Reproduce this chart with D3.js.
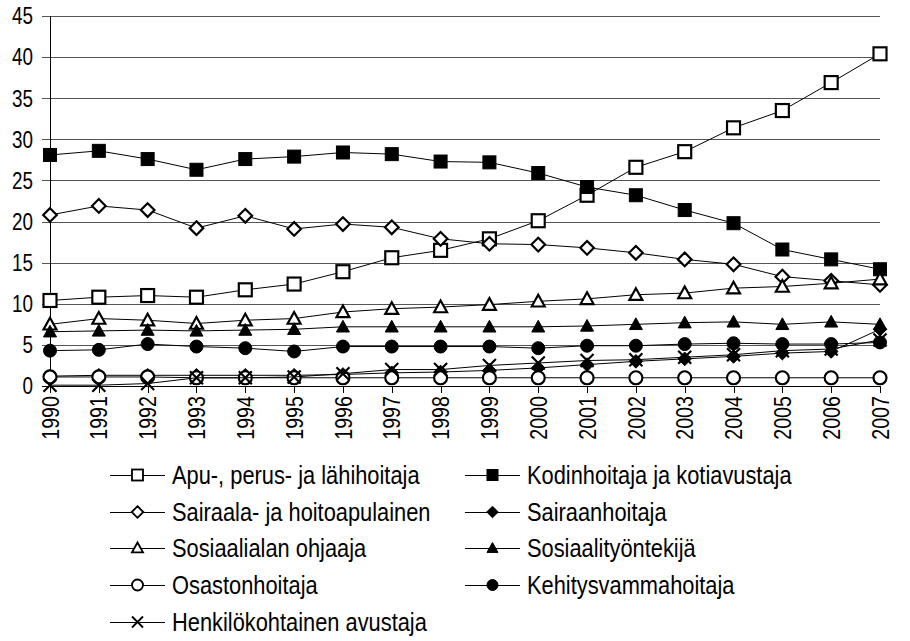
<!DOCTYPE html>
<html>
<head>
<meta charset="utf-8">
<script src="https://cdn.jsdelivr.net/npm/d3@7"></script>
<style>
  body { margin: 0; background: #fff; }
  text { font-family: "Liberation Sans Narrow", "Arial Narrow", "Liberation Sans", Arial, sans-serif; fill: #000; }
</style>
</head>
<body>
<div id="chart"></div>
<script>
// years on the x axis
var years = [1990, 1991, 1992, 1993, 1994, 1995, 1996, 1997, 1998, 1999,
             2000, 2001, 2002, 2003, 2004, 2005, 2006, 2007];

var yTicks = [0, 5, 10, 15, 20, 25, 30, 35, 40, 45];

// series values
var apuPerus = [10.4, 10.8, 11.0, 10.8, 11.7, 12.4, 13.9, 15.6, 16.5, 17.9, 20.1, 23.2, 26.6, 28.5, 31.4, 33.5, 36.9, 40.4];
var kodinhoitaja = [28.1, 28.6, 27.6, 26.3, 27.6, 27.9, 28.4, 28.2, 27.3, 27.2, 25.9, 24.2, 23.2, 21.4, 19.8, 16.6, 15.4, 14.2];
var sairaala = [20.8, 21.9, 21.4, 19.2, 20.7, 19.1, 19.7, 19.3, 17.9, 17.3, 17.2, 16.8, 16.2, 15.4, 14.8, 13.3, 12.8, 12.3];
var sairaanhoitaja = [1.2, 1.3, 1.3, 1.3, 1.3, 1.3, 1.4, 1.6, 1.7, 1.9, 2.2, 2.6, 3.0, 3.3, 3.6, 4.0, 4.2, 6.9];
var sosOhjaaja = [7.5, 8.2, 8.0, 7.6, 8.0, 8.2, 9.0, 9.4, 9.6, 9.9, 10.3, 10.6, 11.1, 11.3, 11.9, 12.1, 12.5, 13.0];
var sosTyontekija = [6.6, 6.7, 6.8, 6.7, 6.8, 6.9, 7.2, 7.2, 7.2, 7.2, 7.2, 7.3, 7.5, 7.7, 7.8, 7.5, 7.8, 7.5];
var osastonhoitaja = [1.1, 1.1, 1.1, 1.0, 1.0, 1.0, 1.0, 1.0, 1.0, 1.0, 1.0, 1.0, 1.0, 1.0, 1.0, 1.0, 1.0, 1.0];
var kehitysvamma = [4.3, 4.4, 5.1, 4.8, 4.6, 4.2, 4.8, 4.8, 4.8, 4.8, 4.6, 4.9, 4.9, 5.1, 5.2, 5.1, 5.1, 5.3];
var henkilokoht = [0.1, 0.1, 0.3, 1.0, 1.0, 1.1, 1.5, 2.0, 2.0, 2.5, 2.8, 3.1, 3.2, 3.5, 3.8, 4.3, 4.5, 5.6];

var seriesNames = ["Apu-, perus- ja lähihoitaja", "Kodinhoitaja ja kotiavustaja",
  "Sairaala- ja hoitoapulainen", "Sairaanhoitaja", "Sosiaalialan ohjaaja",
  "Sosiaalityöntekijä", "Osastonhoitaja", "Kehitysvammahoitaja",
  "Henkilökohtainen avustaja"];
var seriesValues = [apuPerus, kodinhoitaja, sairaala, sairaanhoitaja, sosOhjaaja,
  sosTyontekija, osastonhoitaja, kehitysvamma, henkilokoht];
var seriesMarkers = ["square-open", "square", "diamond-open", "diamond", "triangle-open",
  "triangle", "circle-open", "circle", "cross"];

var width = 910, height = 641;
// no narrow font installed, so squeeze regular text sideways
var squeeze = 0.82;

var svg = d3.select("#chart").append("svg")
    .attr("width", width)
    .attr("height", height);

var x = d3.scalePoint().domain(years).range([50, 880]);
var y = d3.scaleLinear().domain([0, 45]).range([386, 16]);

// gridlines + y labels
svg.append("g").selectAll("line")
    .data(yTicks)
    .enter().append("line")
    .attr("x1", 42).attr("x2", 880)
    .attr("y1", d => Math.round(y(d)) + 0.5)
    .attr("y2", d => Math.round(y(d)) + 0.5)
    .attr("stroke", d => d === 0 ? "#000" : "#555")
    .attr("stroke-width", 1);

svg.append("g").selectAll("text")
    .data(yTicks)
    .enter().append("text")
    .attr("transform", d => `translate(33, ${y(d)}) scale(${squeeze}, 1)`)
    .attr("dy", "0.36em")
    .attr("text-anchor", "end")
    .attr("font-size", "23px")
    .text(d => d);

// y axis line
svg.append("line")
    .attr("x1", 50.5).attr("x2", 50.5)
    .attr("y1", y(45)).attr("y2", y(0))
    .attr("stroke", "#000");

// x ticks and labels
var xg = svg.append("g");
xg.selectAll("line")
    .data(years)
    .enter().append("line")
    .attr("x1", d => Math.round(x(d)) + 0.5)
    .attr("x2", d => Math.round(x(d)) + 0.5)
    .attr("y1", y(0)).attr("y2", y(0) + 7)
    .attr("stroke", "#000");

xg.selectAll("text")
    .data(years)
    .enter().append("text")
    .attr("transform", d => `translate(${x(d)}, ${y(0) + 10}) rotate(-90) scale(${squeeze}, 1)`)
    .attr("dy", "0.36em")
    .attr("text-anchor", "end")
    .attr("font-size", "24px")
    .text(d => d);

// marker drawing helper
function drawMarker(g, type, cx, cy, s) {
    var h = s / 2;
    var filled = type.indexOf("open") < 0;
    var fill = filled ? "#000" : "#fff";
    var sw = filled ? 1 : Math.max(1.8, s / 6);
    if (type.indexOf("square") === 0) {
        g.append("rect")
            .attr("x", cx - h).attr("y", cy - h)
            .attr("width", s).attr("height", s)
            .attr("fill", fill).attr("stroke", "#000").attr("stroke-width", sw);
    } else if (type.indexOf("diamond") === 0) {
        g.append("path")
            .attr("d", `M${cx},${cy - h * 1.05}L${cx + h * 1.05},${cy}L${cx},${cy + h * 1.05}L${cx - h * 1.05},${cy}Z`)
            .attr("fill", fill).attr("stroke", "#000").attr("stroke-width", sw);
    } else if (type.indexOf("triangle") === 0) {
        g.append("path")
            .attr("d", `M${cx},${cy - h}L${cx + h},${cy + h * 0.8}L${cx - h},${cy + h * 0.8}Z`)
            .attr("fill", fill).attr("stroke", "#000").attr("stroke-width", sw)
            .attr("stroke-linejoin", "miter");
    } else if (type.indexOf("circle") === 0) {
        g.append("circle")
            .attr("cx", cx).attr("cy", cy).attr("r", h)
            .attr("fill", fill).attr("stroke", "#000").attr("stroke-width", sw);
    } else if (type === "cross") {
        g.append("path")
            .attr("d", `M${cx - h},${cy - h}L${cx + h},${cy + h}M${cx - h},${cy + h}L${cx + h},${cy - h}`)
            .attr("stroke", "#000").attr("stroke-width", Math.max(1.8, s / 6)).attr("fill", "none");
    }
}

var line = d3.line()
    .x((d, i) => x(years[i]))
    .y(d => y(d));

// series lines and markers
seriesValues.forEach(function (vals, k) {
    var g = svg.append("g");
    g.append("path")
        .datum(vals)
        .attr("d", line)
        .attr("fill", "none")
        .attr("stroke", "#000")
        .attr("stroke-width", 1);
    vals.forEach(function (v, i) {
        drawMarker(g, seriesMarkers[k], x(years[i]), y(v), 13);
    });
});

// legend
var legend = svg.append("g");
var legendRows = [475, 512, 548, 585, 622];
var legendCols = [110, 465];
seriesNames.forEach(function (name, k) {
    var col = k % 2, row = Math.floor(k / 2);
    var lx = legendCols[col], ly = legendRows[row];
    var g = legend.append("g");
    g.append("line")
        .attr("x1", lx).attr("x2", lx + 55)
        .attr("y1", ly + 0.5).attr("y2", ly + 0.5)
        .attr("stroke", "#000");
    drawMarker(g, seriesMarkers[k], lx + 27.5, ly, 11);
    g.append("text")
        .attr("transform", `translate(${lx + 62}, ${ly}) scale(0.84, 1)`)
        .attr("dy", "0.36em")
        .attr("font-size", "26px")
        .text(name);
});
</script>
</body>
</html>
